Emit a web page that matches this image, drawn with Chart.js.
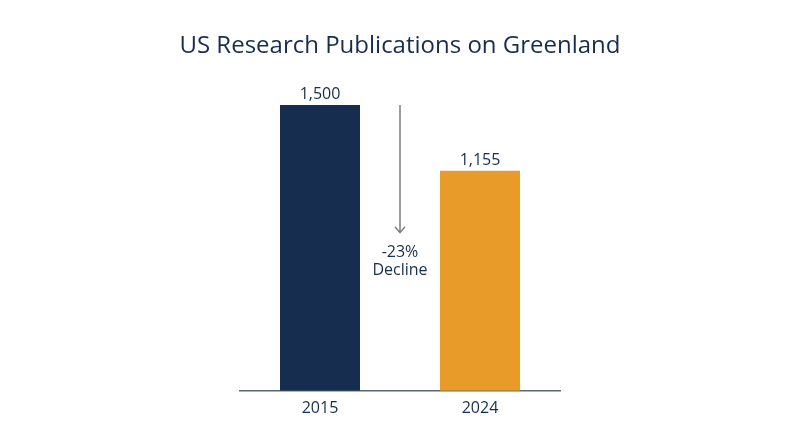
<!DOCTYPE html>
<html>
<head>
<meta charset="utf-8">
<script src="https://cdn.jsdelivr.net/npm/chart.js@4"></script>
<style>
  html, body { margin: 0; padding: 0; background: #fff; }
  #wrap { width: 800px; height: 447px; }
</style>
</head>
<body>
<div id="wrap"><canvas id="chart"></canvas></div>
<script>
const chartTitle = 'US Research Publications on Greenland';
const categories = ['2015', '2024'];
const publications = [1500, 1155];
const barColors = ['#172d50', '#e99b2a'];
const arrowEndValue = 830;

const NAVY = '#172d50';
const FONT = '"Open Sans", sans-serif';

const fmt = v => v.toLocaleString('en-US');

// title drawn by hand: the built-in one gets squeezed into the padded box
const titleText = {
  id: 'titleText',
  afterDraw(chart) {
    const { ctx, width } = chart;
    ctx.save();
    ctx.fillStyle = NAVY;
    ctx.font = '24px ' + FONT;
    ctx.textAlign = 'center';
    ctx.textBaseline = 'alphabetic';
    ctx.fillText(chartTitle, width / 2, 53);
    ctx.restore();
  }
};

// value labels on top of each bar
const valueLabels = {
  id: 'valueLabels',
  afterDatasetsDraw(chart) {
    const { ctx } = chart;
    const meta = chart.getDatasetMeta(0);
    ctx.save();
    ctx.fillStyle = NAVY;
    ctx.font = '16px ' + FONT;
    ctx.textAlign = 'center';
    ctx.textBaseline = 'alphabetic';
    meta.data.forEach((bar, i) => {
      ctx.fillText(fmt(publications[i]), bar.x, bar.y - 6);
    });
    ctx.restore();
  }
};

// arrow between the bars with the % change
const declineNote = {
  id: 'declineNote',
  afterDatasetsDraw(chart) {
    const { ctx, scales: { x, y } } = chart;
    const cx = (x.getPixelForValue(0) + x.getPixelForValue(1)) / 2;
    const y0 = y.getPixelForValue(publications[0]);
    const y1 = y.getPixelForValue(arrowEndValue);
    ctx.save();
    ctx.strokeStyle = '#7a7f87';
    ctx.lineWidth = 1.5;
    ctx.beginPath();
    ctx.moveTo(cx, y0);
    ctx.lineTo(cx, y1);
    ctx.moveTo(cx - 5, y1 - 6);
    ctx.lineTo(cx, y1);
    ctx.lineTo(cx + 5, y1 - 6);
    ctx.stroke();

    const pct = Math.round((publications[1] - publications[0]) / publications[0] * 100);
    ctx.fillStyle = NAVY;
    ctx.font = '16px ' + FONT;
    ctx.textAlign = 'center';
    ctx.textBaseline = 'alphabetic';
    ctx.fillText(pct + '%', cx, y1 + 24);
    ctx.fillText('Decline', cx, y1 + 42);
    ctx.restore();
  }
};

new Chart(document.getElementById('chart'), {
  type: 'bar',
  data: {
    labels: categories,
    datasets: [{
      data: publications,
      backgroundColor: barColors,
      borderWidth: 0,
      categoryPercentage: 1,
      barPercentage: 0.5
    }]
  },
  options: {
    responsive: true,
    maintainAspectRatio: false,
    animation: false,
    layout: { padding: { left: 240, right: 240, top: 86, bottom: 29 } },
    plugins: {
      legend: { display: false },
      tooltip: { enabled: false },
      title: { display: false }
    },
    scales: {
      x: {
        grid: { display: false },
        border: { display: true, color: '#5b6675', width: 1.5 },
        ticks: { color: NAVY, font: { family: FONT, size: 16 }, padding: 0 }
      },
      y: {
        display: false,
        min: 0,
        max: 1600
      }
    }
  },
  plugins: [titleText, valueLabels, declineNote]
});
</script>
</body>
</html>
